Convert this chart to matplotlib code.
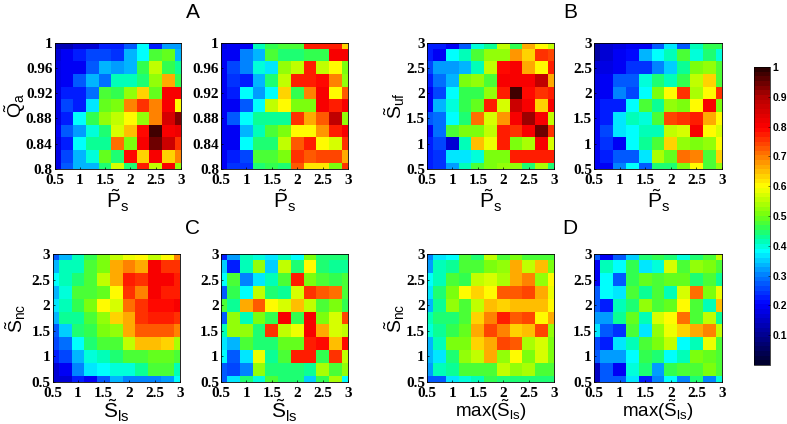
import numpy as np
import matplotlib
matplotlib.use("Agg")
import matplotlib.pyplot as plt
from matplotlib.colors import LinearSegmentedColormap

plt.rcParams['font.family'] = 'Liberation Sans'
plt.rcParams['mathtext.fontset'] = 'custom'
plt.rcParams['mathtext.rm'] = 'Liberation Sans'
plt.rcParams['mathtext.it'] = 'Liberation Sans'

# each grid: rows top to bottom
a_left = [[.14,.14,.17,.17,.22,.22,.27,.38,.22,.32,.32],
          [.17,.2,.22,.25,.25,.24,.33,.38,.47,.49,.33],
          [.18,.19,.2,.27,.34,.32,.33,.46,.55,.46,.43],
          [.18,.19,.28,.34,.29,.42,.41,.45,.53,.66,.46],
          [.18,.22,.22,.29,.47,.46,.53,.63,.49,.8,.8],
          [.18,.26,.23,.36,.49,.5,.69,.76,.7,.8,.6],
          [.18,.23,.38,.46,.53,.56,.6,.53,.7,.85,.93],
          [.2,.28,.32,.4,.44,.57,.65,.79,.97,.8,.82],
          [.18,.22,.39,.43,.43,.71,.5,.8,.95,.87,.75],
          [.18,.26,.34,.4,.49,.44,.79,.64,.8,.64,.7],
          [.18,.27,.33,.33,.44,.57,.45,.78,.55,.8,.53]]
a_right = [[.18,.2,.2,.41,.46,.48,.48,.77,.78,.78,.64],
           [.19,.19,.3,.34,.47,.44,.44,.46,.46,.8,.8],
           [.2,.25,.3,.4,.37,.52,.56,.78,.55,.6,.5],
           [.2,.24,.22,.34,.44,.55,.78,.78,.79,.69,.53],
           [.2,.22,.38,.32,.38,.64,.46,.7,.8,.6,.73],
           [.19,.19,.27,.38,.55,.6,.51,.51,.8,.77,.8],
           [.19,.27,.38,.43,.43,.43,.75,.66,.72,.88,.53],
           [.19,.19,.34,.42,.47,.5,.6,.6,.68,.77,.8],
           [.19,.2,.38,.45,.45,.55,.73,.78,.6,.57,.75],
           [.19,.23,.25,.47,.47,.5,.75,.72,.74,.74,.66],
           [.2,.24,.24,.44,.46,.45,.72,.62,.61,.5,.75]]
b_left = [[.22,.22,.2,.27,.4,.43,.56,.46,.67,.6,.56],
          [.22,.2,.38,.42,.47,.53,.52,.68,.63,.76,.74],
          [.26,.32,.32,.34,.41,.56,.79,.8,.66,.6,.78],
          [.22,.29,.33,.5,.53,.48,.8,.8,.8,.88,.67],
          [.2,.25,.38,.46,.46,.53,.77,.97,.79,.76,.78],
          [.2,.33,.4,.46,.49,.78,.57,.87,.8,.63,.8],
          [.27,.29,.38,.45,.71,.57,.68,.8,.92,.8,.56],
          [.2,.29,.47,.5,.5,.55,.77,.76,.8,.95,.76],
          [.22,.26,.17,.42,.65,.58,.77,.5,.54,.8,.57],
          [.22,.24,.37,.36,.4,.51,.51,.78,.78,.78,.77],
          [.22,.24,.32,.41,.47,.5,.52,.52,.45,.54,.45]]
b_right = [[.12,.17,.18,.2,.2,.27,.37,.27,.42,.46,.46],
           [.12,.17,.19,.21,.33,.38,.42,.47,.4,.44,.4],
           [.17,.18,.2,.24,.24,.3,.35,.43,.5,.53,.47],
           [.18,.2,.27,.28,.4,.44,.42,.46,.56,.63,.48],
           [.18,.19,.31,.26,.38,.51,.6,.76,.54,.6,.76],
           [.2,.22,.22,.38,.47,.43,.52,.51,.6,.8,.5],
           [.2,.22,.36,.42,.4,.47,.74,.76,.78,.66,.6],
           [.2,.25,.36,.38,.41,.42,.55,.57,.8,.6,.57],
           [.2,.24,.2,.38,.43,.48,.63,.53,.5,.53,.6],
           [.2,.23,.27,.27,.36,.54,.49,.71,.7,.47,.64],
           [.19,.19,.3,.38,.28,.44,.44,.5,.6,.47,.53]]
c_left = [[.27,.33,.42,.46,.5,.55,.58,.6,.55,.6,.7],
          [.33,.41,.41,.47,.5,.67,.7,.66,.8,.76,.76],
          [.38,.42,.44,.47,.55,.67,.78,.76,.8,.8,.78],
          [.34,.4,.47,.48,.49,.6,.75,.69,.8,.78,.78],
          [.36,.41,.46,.5,.6,.57,.71,.76,.79,.79,.8],
          [.33,.43,.43,.47,.52,.63,.66,.76,.78,.77,.76],
          [.28,.35,.44,.46,.51,.53,.66,.73,.73,.73,.7],
          [.25,.29,.38,.44,.47,.47,.55,.65,.65,.63,.54],
          [.22,.25,.33,.4,.42,.45,.47,.47,.49,.49,.48],
          [.17,.2,.3,.36,.38,.4,.4,.43,.47,.48,.42],
          [.17,.17,.23,.2,.27,.33,.31,.31,.31,.32,.38]]
c_right = [[.22,.32,.42,.4,.36,.42,.38,.5,.45,.44,.44],
           [.35,.22,.42,.52,.35,.56,.45,.6,.44,.43,.43],
           [.38,.47,.31,.36,.41,.47,.77,.5,.47,.46,.47],
           [.27,.46,.38,.56,.45,.43,.57,.75,.72,.71,.47],
           [.48,.43,.66,.72,.6,.57,.65,.55,.48,.5,.46],
           [.27,.52,.42,.51,.46,.8,.46,.8,.5,.57,.74],
           [.42,.53,.52,.44,.76,.55,.58,.8,.67,.57,.55],
           [.36,.33,.48,.44,.44,.49,.49,.78,.79,.65,.79],
           [.38,.28,.36,.58,.43,.47,.77,.78,.46,.75,.55],
           [.28,.25,.31,.52,.44,.44,.44,.43,.54,.47,.53],
           [.27,.36,.44,.4,.48,.45,.45,.35,.46,.54,.38]]
d_left = [[.3,.37,.38,.47,.44,.55,.48,.5,.47,.47,.47],
          [.32,.42,.43,.47,.47,.5,.53,.67,.55,.65,.5],
          [.39,.42,.47,.46,.55,.57,.54,.67,.7,.53,.6],
          [.36,.44,.51,.6,.64,.6,.72,.72,.74,.67,.58],
          [.33,.43,.52,.48,.56,.65,.63,.65,.65,.65,.6],
          [.42,.45,.45,.48,.63,.7,.77,.72,.74,.6,.66],
          [.4,.43,.46,.49,.67,.74,.7,.63,.65,.74,.52],
          [.33,.41,.5,.5,.63,.67,.74,.73,.54,.57,.5],
          [.33,.37,.44,.52,.55,.66,.52,.6,.5,.57,.5],
          [.32,.41,.43,.47,.47,.47,.55,.53,.54,.47,.47],
          [.28,.27,.36,.4,.41,.46,.45,.45,.45,.45,.45]]
d_right = [[.28,.2,.27,.35,.45,.46,.44,.4,.45,.47,.55],
           [.2,.41,.39,.46,.36,.4,.57,.48,.53,.5,.47],
           [.2,.38,.27,.46,.49,.48,.49,.49,.44,.47,.43],
           [.27,.39,.37,.48,.43,.48,.42,.57,.71,.51,.59],
           [.27,.22,.41,.45,.52,.47,.49,.6,.47,.42,.65],
           [.32,.32,.43,.49,.41,.57,.6,.71,.47,.55,.43],
           [.37,.28,.24,.48,.36,.52,.58,.64,.66,.69,.56],
           [.25,.22,.36,.42,.47,.5,.56,.39,.42,.58,.47],
           [.27,.32,.32,.38,.46,.45,.39,.41,.5,.49,.47],
           [.15,.28,.2,.4,.44,.32,.46,.48,.48,.5,.47],
           [.15,.28,.27,.37,.23,.31,.38,.31,.44,.3,.4]]

s_vals = np.arange(0.5, 3.01, 0.25)
qa_vals = np.arange(1.0, 0.799, -0.02)
s_ticks = [0.5, 1, 1.5, 2, 2.5, 3]
s_labels = ['0.5', '1', '1.5', '2', '2.5', '3']
qa_ticks = [0.8, 0.84, 0.88, 0.92, 0.96, 1]
qa_labels = ['0.8', '0.84', '0.88', '0.92', '0.96', '1']

cmap = LinearSegmentedColormap.from_list('cb', [
    (0.0, '#00002e'), (0.2, '#0000ff'), (0.3, '#0080ff'), (0.38, '#00ffff'),
    (0.42, '#00ffa8'), (0.46, '#30ff50'), (0.5, '#70ff10'), (0.55, '#b8ff00'),
    (0.6, '#ffff00'), (0.7, '#ff8000'), (0.8, '#ff0000'),
    (0.9, '#b80000'), (1.0, '#2a0000')], N=64)

W, H = 787, 424
fig = plt.figure(figsize=(W/100, H/100), dpi=100)

def px_axes(x0, x1, y0, y1):
    return fig.add_axes([x0/W, 1-y1/H, (x1-x0)/W, (y1-y0)/H])

def panel(x0, x1, y0, y1, grid, yv, yt, ytl, xlabel, ylabel=None, label_x=None, xfs=15, xpad=0.5):
    ax = px_axes(x0, x1, y0, y1)
    im = ax.pcolormesh(s_vals, yv, np.array(grid), cmap=cmap, vmin=0, vmax=1, shading='nearest')
    ax.set_xlim(0.5, 3)
    ax.set_ylim(min(yt), max(yt))
    ax.set_xticks(s_ticks)
    ax.set_xticklabels(s_labels, family='Liberation Serif', fontweight='bold', fontsize=11)
    ax.set_yticks(yt)
    ax.set_yticklabels(ytl, family='Liberation Serif', fontweight='bold', fontsize=11)
    ax.tick_params(direction='in', length=1.5, width=0.5)
    ax.tick_params(axis='x', pad=3.5)
    ax.tick_params(axis='y', pad=1.5)
    for sp in ax.spines.values():
        sp.set_linewidth(0.6)
    ax.set_xlabel(xlabel, fontsize=xfs, labelpad=xpad)
    if ylabel:
        ax.set_ylabel(ylabel, fontsize=14)
        ax.yaxis.set_label_coords((label_x-x0)/(x1-x0), 0.5)
    return im

P = r'$\tilde{\mathrm{P}}_{\mathrm{s}}$'
Qa = r'$\tilde{\mathrm{Q}}_{\mathrm{a}}$'
Suf = r'$\tilde{\mathrm{S}}_{\mathrm{uf}}$'
Snc = r'$\tilde{\mathrm{S}}_{\mathrm{nc}}$'
Sls = r'$\tilde{\mathrm{S}}_{\mathrm{ls}}$'
MaxS = r'max($\tilde{\mathrm{S}}_{\mathrm{ls}}$)'
s_rev = s_vals[::-1]

panel(54.5, 181, 42.5, 169, a_left, qa_vals, qa_ticks, qa_labels, P, Qa, label_x=28)
panel(221, 348, 42.5, 169, a_right, qa_vals, qa_ticks, qa_labels, P)
panel(427, 554, 42.5, 169, b_left, s_rev, s_ticks, s_labels, P, Suf, label_x=407)
panel(594, 722, 42.5, 169, b_right, s_rev, s_ticks, s_labels, P)
panel(52.5, 180, 254, 382, c_left, s_rev, s_ticks, s_labels, Sls, Snc, label_x=28, xpad=-1.5)
panel(221, 348, 254, 382, c_right, s_rev, s_ticks, s_labels, Sls, xpad=-1.5)
panel(427, 554, 254, 382, d_left, s_rev, s_ticks, s_labels, MaxS, Snc, label_x=407, xfs=13.5, xpad=-1.5)
im = panel(594, 722, 254, 382, d_right, s_rev, s_ticks, s_labels, MaxS, xfs=13.5, xpad=-1.5)

for letter, px, py in [('A', 193, 12), ('B', 570, 12), ('C', 193, 229), ('D', 570, 228)]:
    fig.text(px/W, 1-py/H, letter, fontsize=15, ha='center', va='center')

cax = px_axes(754, 770, 67, 365)
cb = fig.colorbar(im, cax=cax)
cb.set_ticks(np.arange(0.1, 1.01, 0.1))
cb.set_ticklabels(['0.1', '0.2', '0.3', '0.4', '0.5', '0.6', '0.7', '0.8', '0.9', '1'])
cb.ax.tick_params(direction='in', length=1.5, width=0.4, labelsize=7.5, pad=2)
for t in cb.ax.get_yticklabels():
    t.set_fontweight('bold')
cb.outline.set_linewidth(0.5)

fig.savefig("out.png", dpi=100)
print("Done")
